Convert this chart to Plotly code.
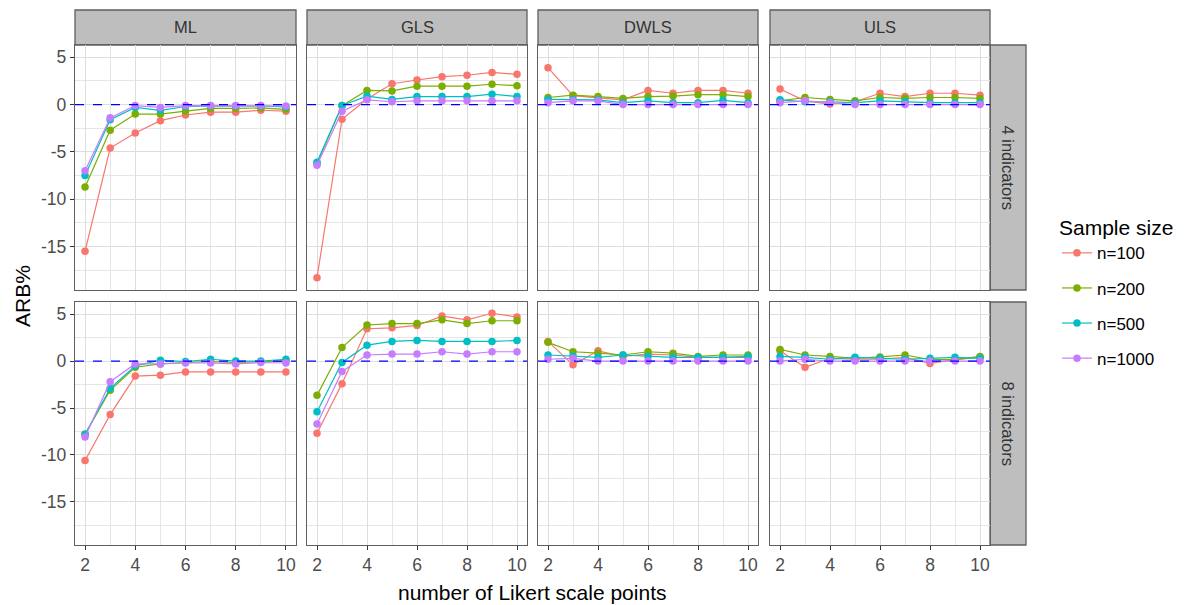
import plotly.graph_objects as go

W, H = 1187, 605

likert_points = [2, 3, 4, 5, 6, 7, 8, 9, 10]
methods = ["ML", "GLS", "DWLS", "ULS"]
indicator_rows = ["4 indicators", "8 indicators"]
sample_sizes = ["n=100", "n=200", "n=500", "n=1000"]
colors = ["#F8766D", "#7CAE00", "#00BFC4", "#C77CFF"]
y_tick_values = [-15, -10, -5, 0, 5]
y_tick_labels = ["-15", "-10", "-5", "0", "5"]
x_tick_values = [2, 4, 6, 8, 10]
x_tick_labels = ["2", "4", "6", "8", "10"]
reference_value = 0

# ---- 4 indicators ----
ml4_n100 = [-15.5, -4.6, -3.0, -1.7, -1.1, -0.8, -0.8, -0.6, -0.7]
ml4_n200 = [-8.7, -2.7, -1.0, -1.0, -0.7, -0.4, -0.4, -0.35, -0.5]
ml4_n500 = [-7.5, -1.6, -0.3, -0.6, -0.2, -0.15, -0.15, -0.15, -0.25]
ml4_n1000 = [-7.0, -1.4, -0.1, -0.3, -0.1, -0.1, -0.1, -0.1, -0.15]

gls4_n100 = [-18.3, -1.55, 0.6, 2.2, 2.6, 2.95, 3.1, 3.4, 3.2]
gls4_n200 = [-6.2, -0.1, 1.5, 1.45, 1.95, 1.95, 1.95, 2.15, 2.0]
gls4_n500 = [-6.1, -0.1, 0.9, 0.55, 0.85, 0.85, 0.85, 1.1, 0.85]
gls4_n1000 = [-6.4, -0.7, 0.5, 0.3, 0.4, 0.4, 0.4, 0.4, 0.4]

dwls4_n100 = [3.9, 0.95, 0.7, 0.5, 1.5, 1.2, 1.5, 1.5, 1.2]
dwls4_n200 = [0.75, 1.0, 0.85, 0.65, 0.85, 0.9, 1.05, 1.05, 0.85]
dwls4_n500 = [0.55, 0.55, 0.5, 0.2, 0.4, 0.2, 0.2, 0.45, 0.2]
dwls4_n1000 = [0.2, 0.4, 0.4, 0.0, 0.0, 0.0, 0.0, 0.0, 0.0]

uls4_n100 = [1.65, 0.4, 0.05, 0.3, 1.2, 0.85, 1.2, 1.2, 1.0]
uls4_n200 = [0.4, 0.75, 0.55, 0.4, 0.75, 0.65, 0.75, 0.75, 0.65]
uls4_n500 = [0.5, 0.3, 0.3, 0.2, 0.4, 0.3, 0.2, 0.2, 0.2]
uls4_n1000 = [0.2, 0.4, 0.2, 0.0, 0.0, 0.0, 0.0, 0.0, 0.0]

# ---- 8 indicators ----
ml8_n100 = [-10.6, -5.7, -1.6, -1.5, -1.15, -1.15, -1.15, -1.15, -1.15]
ml8_n200 = [-7.8, -3.1, -0.65, -0.3, -0.15, -0.05, -0.15, -0.1, 0.0]
ml8_n500 = [-7.8, -2.9, -0.5, 0.1, -0.05, 0.2, 0.0, 0.0, 0.2]
ml8_n1000 = [-8.1, -2.2, -0.3, -0.3, -0.2, -0.2, -0.3, -0.15, -0.2]

gls8_n100 = [-7.7, -2.4, 3.45, 3.55, 3.8, 4.8, 4.4, 5.1, 4.7]
gls8_n200 = [-3.65, 1.45, 3.85, 4.0, 4.0, 4.4, 4.0, 4.3, 4.3]
gls8_n500 = [-5.4, -0.15, 1.7, 2.1, 2.2, 2.1, 2.1, 2.1, 2.2]
gls8_n1000 = [-6.7, -1.1, 0.65, 0.75, 0.75, 1.0, 0.75, 1.0, 1.0]

dwls8_n100 = [2.1, -0.4, 1.1, 0.5, 0.75, 0.65, 0.4, 0.4, 0.4]
dwls8_n200 = [2.0, 1.0, 0.85, 0.65, 1.0, 0.85, 0.5, 0.65, 0.65]
dwls8_n500 = [0.65, 0.55, 0.4, 0.65, 0.5, 0.4, 0.4, 0.4, 0.5]
dwls8_n1000 = [0.2, 0.3, 0.0, 0.0, 0.0, 0.0, 0.0, 0.0, 0.0]

uls8_n100 = [1.1, -0.65, 0.3, 0.2, 0.2, 0.4, -0.25, 0.15, 0.4]
uls8_n200 = [1.25, 0.65, 0.5, 0.3, 0.45, 0.65, 0.15, 0.15, 0.5]
uls8_n500 = [0.5, 0.4, 0.2, 0.4, 0.3, 0.2, 0.3, 0.4, 0.3]
uls8_n1000 = [0.0, 0.2, 0.0, 0.0, 0.0, 0.0, 0.0, 0.0, 0.0]

panels = [
    [  # 4 indicators
        [ml4_n100, ml4_n200, ml4_n500, ml4_n1000],
        [gls4_n100, gls4_n200, gls4_n500, gls4_n1000],
        [dwls4_n100, dwls4_n200, dwls4_n500, dwls4_n1000],
        [uls4_n100, uls4_n200, uls4_n500, uls4_n1000],
    ],
    [  # 8 indicators
        [ml8_n100, ml8_n200, ml8_n500, ml8_n1000],
        [gls8_n100, gls8_n200, gls8_n500, gls8_n1000],
        [dwls8_n100, dwls8_n200, dwls8_n500, dwls8_n1000],
        [uls8_n100, uls8_n200, uls8_n500, uls8_n1000],
    ],
]

# ---- layout geometry (pixels) ----
col_px = [(75, 296), (307, 527), (538, 758), (770, 990)]
row_px = [(45, 290), (302, 545)]
strip_top = (10, 45)
strip_right = (990, 1026)


def px(x):
    return x / W


def py(y):
    return 1 - y / H


FONT = "Liberation Sans, Arial, sans-serif"
BORDER = "#5f5f5f"
STRIP_FILL = "#BEBEBE"

fig = go.Figure()
layout = dict(
    width=W, height=H,
    margin=dict(l=0, r=0, t=0, b=0),
    paper_bgcolor="white", plot_bgcolor="white",
    font=dict(family=FONT, size=17, color="#4D4D4D"),
    showlegend=True,
)
shapes = []
annotations = []

for r in range(2):
    for c in range(4):
        k = r * 4 + c
        sfx = "" if k == 0 else str(k + 1)
        xa, ya = "x" + sfx, "y" + sfx
        for s in range(4):
            fig.add_trace(go.Scatter(
                x=likert_points, y=panels[r][c][s],
                mode="lines+markers",
                name=sample_sizes[s],
                legendgroup=sample_sizes[s],
                showlegend=(k == 0),
                line=dict(color=colors[s], width=1.2),
                marker=dict(color=colors[s], size=7.5),
                xaxis=xa, yaxis=ya,
            ))
        layout["xaxis" + sfx] = dict(
            domain=[px(col_px[c][0]), px(col_px[c][1])],
            anchor=ya, range=[1.6, 10.4],
            tickmode="array", tickvals=x_tick_values, ticktext=x_tick_labels,
            showgrid=True, gridcolor="#DDDDDD", gridwidth=1.2,
            minor=dict(tick0=1, dtick=1, showgrid=True, gridcolor="#E6E6E6", gridwidth=1, ticks=""),
            showline=True, mirror=True, linecolor=BORDER, linewidth=1.3,
            ticks="outside" if r == 1 else "", ticklen=4, tickcolor="#333333",
            showticklabels=(r == 1), zeroline=False,
            tickfont=dict(size=17.5, color="#4D4D4D"),
        )
        layout["yaxis" + sfx] = dict(
            domain=[py(row_px[r][1]), py(row_px[r][0])],
            anchor=xa, range=[-19.6, 6.3],
            tickmode="array", tickvals=y_tick_values, ticktext=y_tick_labels,
            showgrid=True, gridcolor="#DDDDDD", gridwidth=1.2,
            minor=dict(tick0=0, dtick=2.5, showgrid=True, gridcolor="#E6E6E6", gridwidth=1, ticks=""),
            showline=True, mirror=True, linecolor=BORDER, linewidth=1.3,
            ticks="outside" if c == 0 else "", ticklen=4, tickcolor="#333333",
            showticklabels=(c == 0), zeroline=False,
            tickfont=dict(size=17.5, color="#4D4D4D"),
        )
        shapes.append(dict(
            type="line", xref=xa + " domain", yref=ya,
            x0=0, x1=1, y0=reference_value, y1=reference_value,
            line=dict(color="#0000FF", width=1.3, dash="dash"), layer="above",
        ))

# column strips
for c, m in enumerate(methods):
    shapes.append(dict(
        type="rect", xref="paper", yref="paper",
        x0=px(col_px[c][0]), x1=px(col_px[c][1]),
        y0=py(strip_top[1]), y1=py(strip_top[0]),
        fillcolor=STRIP_FILL, line=dict(color=BORDER, width=1.3), layer="below",
    ))
    annotations.append(dict(
        x=px((col_px[c][0] + col_px[c][1]) / 2), y=py((strip_top[0] + strip_top[1]) / 2),
        xref="paper", yref="paper", text=m, showarrow=False,
        font=dict(size=16.5, color="#333333"), xanchor="center", yanchor="middle",
    ))

# row strips
for r, lab in enumerate(indicator_rows):
    shapes.append(dict(
        type="rect", xref="paper", yref="paper",
        x0=px(strip_right[0]), x1=px(strip_right[1]),
        y0=py(row_px[r][1]), y1=py(row_px[r][0]),
        fillcolor=STRIP_FILL, line=dict(color=BORDER, width=1.3), layer="below",
    ))
    annotations.append(dict(
        x=px((strip_right[0] + strip_right[1]) / 2), y=py((row_px[r][0] + row_px[r][1]) / 2),
        xref="paper", yref="paper", text=lab, showarrow=False, textangle=90,
        font=dict(size=16.5, color="#333333"), xanchor="center", yanchor="middle",
    ))

# axis titles
annotations.append(dict(
    x=px(532), y=py(592), xref="paper", yref="paper",
    text="number of Likert scale points", showarrow=False,
    font=dict(size=21, color="#000000"), xanchor="center", yanchor="middle",
))
annotations.append(dict(
    x=px(22), y=py(296), xref="paper", yref="paper",
    text="ARB%", showarrow=False, textangle=-90,
    font=dict(size=21, color="#000000"), xanchor="center", yanchor="middle",
))

layout["shapes"] = shapes
layout["annotations"] = annotations
layout["legend"] = dict(
    x=px(1057), y=py(208), xanchor="left", yanchor="top",
    title=dict(text="Sample size", font=dict(size=21, color="#000000")),
    font=dict(size=17, color="#000000"),
    traceorder="grouped", tracegroupgap=10,
    bgcolor="rgba(0,0,0,0)", itemwidth=30,
)

fig.update_layout(**layout)
fig.write_html(
    "out.html",
    config={"displayModeBar": False},
    post_script="document.body.style.margin='0';",
)
